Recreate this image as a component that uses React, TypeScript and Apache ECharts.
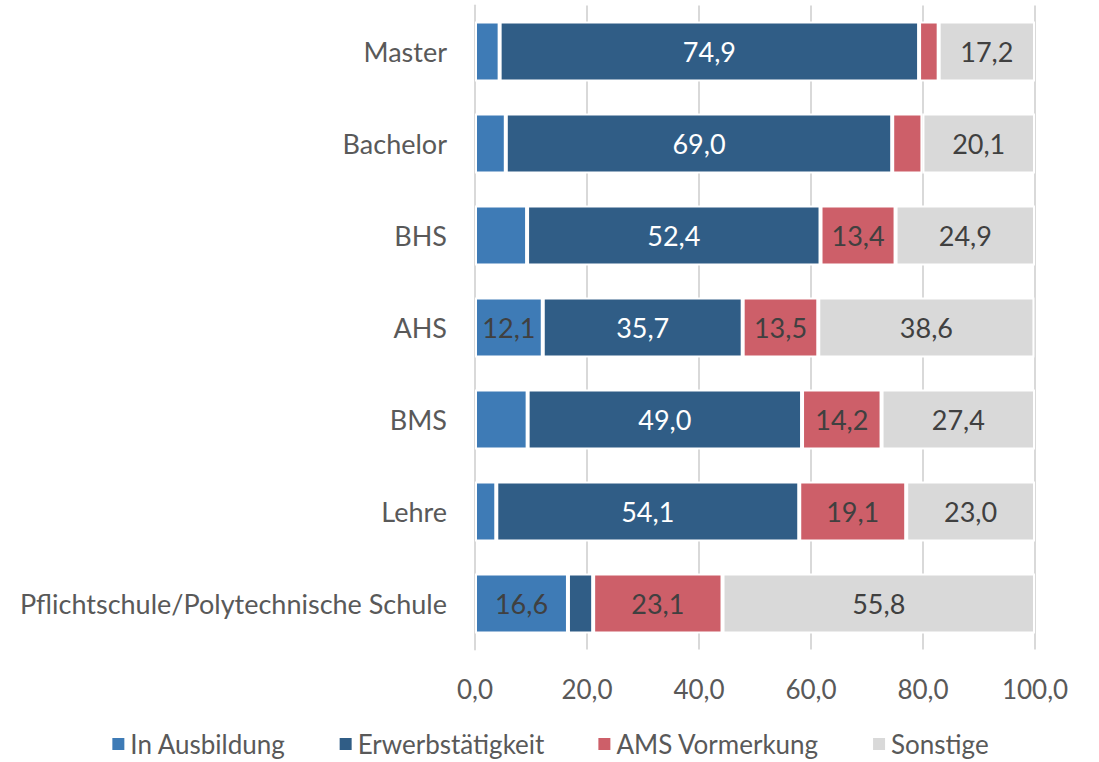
import React, { useEffect, useRef } from "react";
import * as echarts from "echarts";

const categories = [
  "Pflichtschule/Polytechnische Schule",
  "Lehre",
  "BMS",
  "AHS",
  "BHS",
  "Bachelor",
  "Master",
];
const seriesNames = ["In Ausbildung", "Erwerbstätigkeit", "AMS Vormerkung", "Sonstige"];
const inAusbildung = [16.6, 3.8, 9.4, 12.1, 9.3, 5.5, 4.4];
const erwerb = [4.5, 54.1, 49.0, 35.7, 52.4, 69.0, 74.9];
const ams = [23.1, 19.1, 14.2, 13.5, 13.4, 5.4, 3.5];
const sonstige = [55.8, 23.0, 27.4, 38.6, 24.9, 20.1, 17.2];
const xTicks = [0, 20, 40, 60, 80, 100];

const colors = ["#3e7bb6", "#305d86", "#cd5f69", "#d9d9d9"];
const labelColors = ["#404040", "#ffffff", "#404040", "#404040"];
const FONT = "Lato";

export default function App() {
  const ref = useRef<HTMLDivElement>(null);
  useEffect(() => {
    if (!ref.current) return;
    const chart = echarts.init(ref.current, null, { renderer: "svg" });
    const data = [inAusbildung, erwerb, ams, sonstige];
    chart.setOption({
      animation: false,
      textStyle: { fontFamily: FONT },
      grid: { left: 475, right: 64, top: 5.5, bottom: 112.5, containLabel: false },
      legend: {
        top: 730,
        left: "center",
        padding: 0,
        itemWidth: 14,
        itemHeight: 14,
        itemGap: 52,
        icon: "rect",
        textStyle: { fontFamily: FONT, fontSize: 26, color: "#595959", lineHeight: 28 },
        data: seriesNames,
      },
      xAxis: {
        type: "value",
        min: xTicks[0],
        max: xTicks[xTicks.length - 1],
        interval: 20,
        axisLine: { show: false },
        axisTick: { show: false },
        splitLine: { show: true, lineStyle: { color: "#d9d9d9", width: 2 } },
        axisLabel: {
          fontFamily: FONT,
          fontSize: 26,
          color: "#595959",
          margin: 26,
          formatter: (v: number) => v.toFixed(1).replace(".", ","),
        },
      },
      yAxis: {
        type: "category",
        data: categories,
        axisLine: { show: true, lineStyle: { color: "#d9d9d9", width: 2 } },
        axisTick: { show: false },
        axisLabel: { fontFamily: FONT, fontSize: 27, color: "#595959", margin: 28 },
      },
      series: seriesNames.map((name, i) => ({
        name,
        type: "bar",
        stack: "total",
        barWidth: 60,
        data: data[i],
        itemStyle: { color: colors[i], borderColor: "#ffffff", borderWidth: 2 },
        label: {
          show: true,
          position: "inside",
          fontFamily: FONT,
          fontSize: 27,
          color: labelColors[i],
          formatter: (p: any) => (p.value >= 10 ? p.value.toFixed(1).replace(".", ",") : ""),
        },
      })),
    });
    return () => chart.dispose();
  }, []);
  return (
    <div
      ref={ref}
      style={{ position: "absolute", left: 0, top: 0, width: 1099, height: 762 }}
    />
  );
}
